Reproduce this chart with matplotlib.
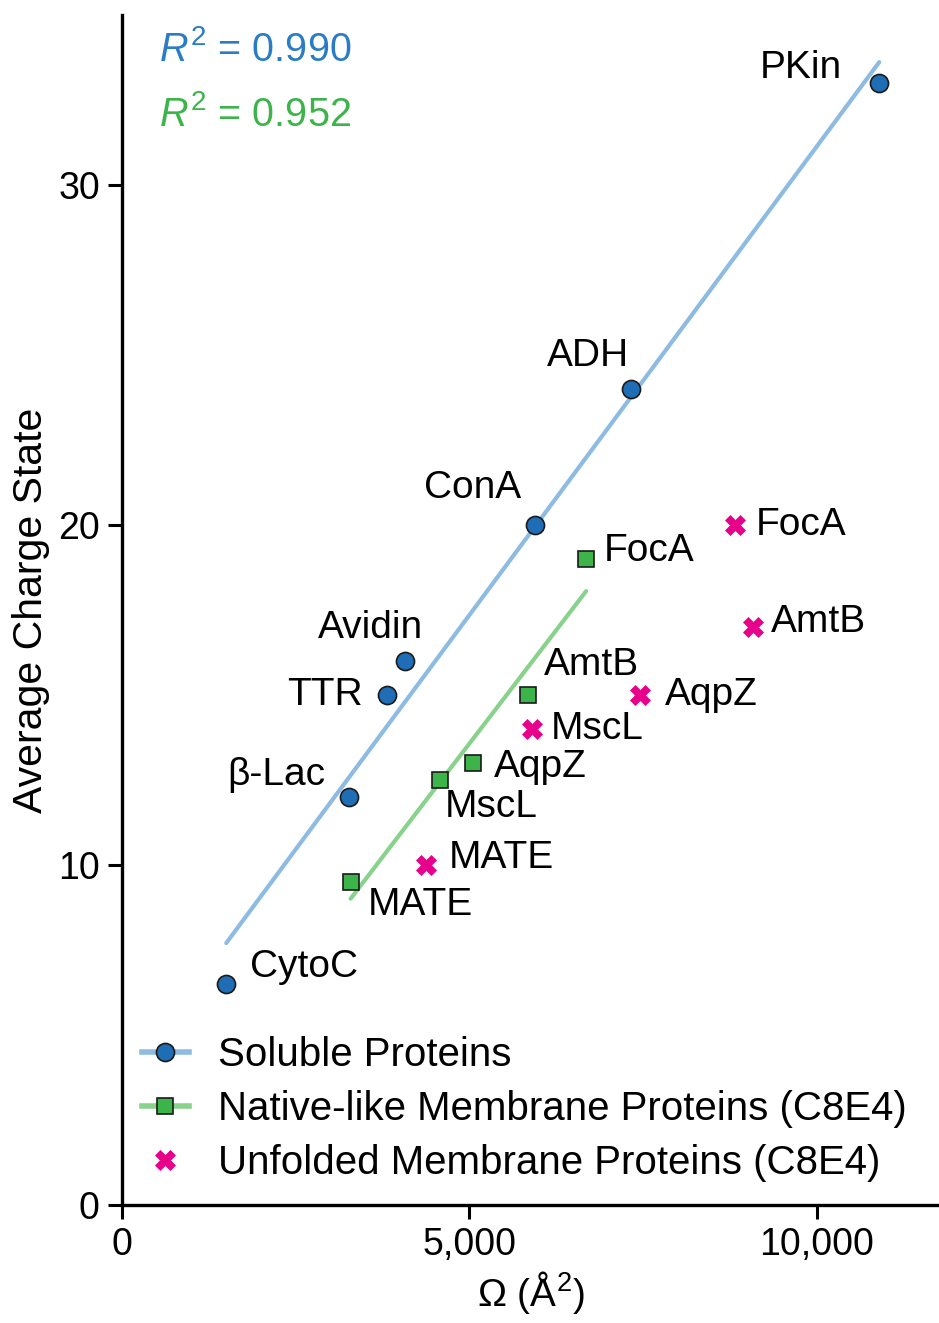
import numpy as np
import matplotlib
matplotlib.use("Agg")
import matplotlib.pyplot as plt
from matplotlib.lines import Line2D

plt.rcParams['font.family'] = ['Liberation Sans', 'DejaVu Sans']
plt.rcParams['mathtext.fontset'] = 'custom'
plt.rcParams['mathtext.rm'] = 'Liberation Sans'
plt.rcParams['mathtext.it'] = 'Liberation Sans:italic'

# ---- data ----
sol_names = ["CytoC", "β-Lac", "TTR", "Avidin", "ConA", "ADH", "PKin"]
sol_x = [1500, 3270, 3820, 4070, 5940, 7330, 10900]
sol_y = [6.5, 12.0, 15.0, 16.0, 20.0, 24.0, 33.0]

nat_names = ["MATE", "MscL", "AqpZ", "AmtB", "FocA"]
nat_x = [3290, 4570, 5050, 5840, 6680]
nat_y = [9.5, 12.5, 13.0, 15.0, 19.0]

unf_names = ["MATE", "MscL", "AqpZ", "AmtB", "FocA"]
unf_x = [4370, 5900, 7460, 9080, 8820]
unf_y = [10.0, 14.0, 15.0, 17.0, 20.0]

r2_sol = "0.990"
r2_nat = "0.952"

# label offsets (pixels) and alignment
sol_off = [(24, 17, 'left'), (-24, 22, 'right'), (-25, 0, 'right'), (-34, 33, 'center'),
           (-62, 37, 'center'), (-43, 33, 'center'), (-37, 15, 'right')]
nat_off = [(17, -23, 'left'), (5, -27, 'left'), (21, -4, 'left'), (16, 30, 'left'), (18, 8, 'left')]
unf_off = [(23, 7, 'left'), (19, 0, 'left'), (25, 0, 'left'), (18, 5, 'left'), (21, 0, 'left')]

blue = '#1f6db5'
blue_line = '#8dbbe2'
green = '#3cb44a'
green_line = '#88d28c'
magenta = '#e6008a'

fig = plt.figure(figsize=(9.39, 13.23), dpi=100)
ax = fig.add_axes([0.130, 0.0892, 0.870, 0.8995])

# fits
for xs, ys, c in [(sol_x, sol_y, blue_line), (nat_x, nat_y, green_line)]:
    xs = np.array(xs, float)
    ys = np.array(ys, float)
    m, b = np.polyfit(xs, ys, 1)
    xx = np.array([xs.min(), xs.max()])
    ax.plot(xx, m * xx + b, color=c, lw=3, zorder=1, solid_capstyle='round')

ax.plot(sol_x, sol_y, 'o', ms=13, mfc=blue, mec='#1a1a1a', mew=1.2, zorder=3)
ax.plot(nat_x, nat_y, 's', ms=12, mfc=green, mec='#1a1a1a', mew=1.2, zorder=3)
ax.plot(unf_x, unf_y, 'X', ms=15, mfc=magenta, mec=magenta, mew=0.5, zorder=3)

fs = 28
for names, xs, ys, offs in [(sol_names, sol_x, sol_y, sol_off),
                            (nat_names, nat_x, nat_y, nat_off),
                            (unf_names, unf_x, unf_y, unf_off)]:
    for n, x, y, (dx, dy, ha) in zip(names, xs, ys, offs):
        ax.annotate(n, (x, y), xytext=(dx, dy), textcoords='offset pixels',
                    ha=ha, va='center', fontsize=fs)

ax.text(0.045, 0.971, r'$R^2$ = ' + r2_sol, transform=ax.transAxes, color='#2a7cc4',
        fontsize=28.5, va='center', ha='left')
ax.text(0.045, 0.916, r'$R^2$ = ' + r2_nat, transform=ax.transAxes, color='#3cb44a',
        fontsize=28.5, va='center', ha='left')

ax.set_xlim(0, 11760)
ax.set_ylim(0, 35)
ax.set_xticks([0, 5000, 10000])
ax.set_xticklabels(["0", "5,000", "10,000"])
ax.set_yticks([0, 10, 20, 30])
for s in ['top', 'right']:
    ax.spines[s].set_visible(False)
for s in ['left', 'bottom']:
    ax.spines[s].set_linewidth(2.4)
ax.tick_params(width=2.2, length=10, labelsize=27, pad=6)
ax.set_xlabel("Ω (Å$^2$)", fontsize=28, labelpad=4)
ax.set_ylabel("Average Charge State", fontsize=29.5, labelpad=6)

handles = [
    Line2D([], [], color=blue_line, lw=4, marker='o', ms=13, mfc=blue, mec='#1a1a1a', mew=1.2),
    Line2D([], [], color=green_line, lw=4, marker='s', ms=12, mfc=green, mec='#1a1a1a', mew=1.2),
    Line2D([], [], ls='none', marker='X', ms=15, mfc=magenta, mec=magenta, mew=0.5),
]
labels = ["Soluble Proteins", "Native-like Membrane Proteins (C8E4)",
          "Unfolded Membrane Proteins (C8E4)"]
ax.legend(handles, labels, loc='lower left', bbox_to_anchor=(0.0, 0.002), frameon=False,
          fontsize=29, handlelength=1.15, handletextpad=0.72, labelspacing=0.4, borderpad=0)

fig.savefig("out.png", dpi=100)
